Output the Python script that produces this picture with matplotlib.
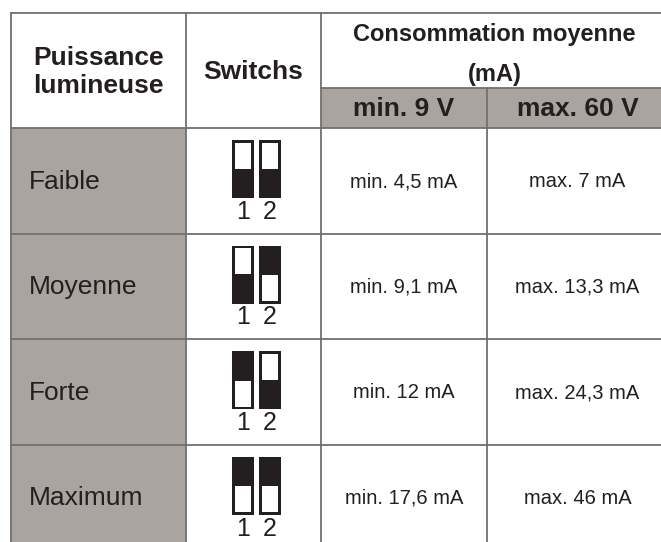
import matplotlib
matplotlib.use("Agg")
import matplotlib.pyplot as plt
from matplotlib.patches import Rectangle

# ---- data ----
levels = ["Faible", "Moyenne", "Forte", "Maximum"]
switch1 = ["bas", "bas", "haut", "haut"]   # position of black lever part
switch2 = ["bas", "haut", "bas", "haut"]
min_9v = ["min. 4,5 mA", "min. 9,1 mA", "min. 12 mA", "min. 17,6 mA"]
max_60v = ["max. 7 mA", "max. 13,3 mA", "max. 24,3 mA", "max. 46 mA"]
header_col1 = ["Puissance", "lumineuse"]
header_col2 = "Switchs"
header_col3 = ["Consommation moyenne", "(mA)"]
sub_headers = ["min. 9 V", "max. 60 V"]
switch_labels = ["1", "2"]

# ---- layout (pixels) ----
W, H = 661, 542
x_cols = [11, 186, 321, 487, 668]
y_top, y_sub, y_head = 13, 88, 128
row_h = 105.5
gray = "#a9a4a0"
line_c = "#707070"
txt_c = "#231f20"
FONT = "Liberation Sans"

fig = plt.figure(figsize=(W / 100, H / 100), dpi=100)
ax = fig.add_axes([0, 0, 1, 1])
ax.set_xlim(0, W)
ax.set_ylim(H, 0)
ax.axis("off")

n = len(levels)
y_rows = [y_head + i * row_h for i in range(n + 1)]

# gray fills
ax.add_patch(Rectangle((x_cols[2], y_sub), x_cols[4] - x_cols[2], y_head - y_sub,
                       facecolor=gray, edgecolor="none"))
ax.add_patch(Rectangle((x_cols[0], y_head), x_cols[1] - x_cols[0], y_rows[-1] - y_head,
                       facecolor=gray, edgecolor="none"))

lw = 1.3
ax.plot([x_cols[0], x_cols[4]], [y_top, y_top], color=line_c, lw=lw)
ax.plot([x_cols[2], x_cols[4]], [y_sub, y_sub], color=line_c, lw=lw)
for y in y_rows[:-1]:
    ax.plot([x_cols[0], x_cols[4]], [y, y], color=line_c, lw=lw)
ax.plot([x_cols[0]] * 2, [y_top, y_rows[-1]], color=line_c, lw=lw)
ax.plot([x_cols[1]] * 2, [y_top, y_rows[-1]], color=line_c, lw=lw)
ax.plot([x_cols[2]] * 2, [y_top, y_rows[-1]], color=line_c, lw=lw)
ax.plot([x_cols[3]] * 2, [y_sub, y_rows[-1]], color=line_c, lw=lw)

bold = dict(ha="center", va="center", fontweight="bold", family=FONT, color=txt_c)
# headers
cx1 = (x_cols[0] + x_cols[1]) / 2
ax.text(cx1, 58, header_col1[0], fontsize=19, **bold)
ax.text(cx1, 86, header_col1[1], fontsize=19, **bold)
ax.text((x_cols[1] + x_cols[2]) / 2, 72, header_col2, fontsize=19, **bold)
cx3 = (x_cols[2] + x_cols[4]) / 2
ax.text(cx3, 34, header_col3[0], fontsize=17, **bold)
ax.text(cx3, 74, header_col3[1], fontsize=17, **bold)
for j, s in enumerate(sub_headers):
    ax.text((x_cols[2 + j] + x_cols[3 + j]) / 2, (y_sub + y_head) / 2 + 1, s,
            fontsize=19, **bold)

# rows
sw_w, sw_h = 22, 58
sw_gap = 5
win_h = 26
for i in range(n):
    y0 = y_rows[i]
    yc = y0 + row_h / 2
    ax.text(29, yc + 1, levels[i], ha="left", va="center", fontsize=19,
            family=FONT, color=txt_c)
    ax.text((x_cols[2] + x_cols[3]) / 2, yc + 1, min_9v[i], ha="center", va="center",
            fontsize=14.5, family=FONT, color=txt_c)
    ax.text((x_cols[3] + x_cols[4]) / 2, yc + 1, max_60v[i], ha="center", va="center",
            fontsize=14.5, family=FONT, color=txt_c)
    xs0 = (x_cols[1] + x_cols[2]) / 2 - (2 * sw_w + sw_gap) / 2 + 3
    for k, state in enumerate([switch1[i], switch2[i]]):
        xs = xs0 + k * (sw_w + sw_gap)
        ys = y0 + 12
        ax.add_patch(Rectangle((xs, ys), sw_w, sw_h, facecolor=txt_c, edgecolor="none"))
        if state == "bas":
            wy = ys + 2.5
        else:
            wy = ys + sw_h - 2.5 - win_h
        ax.add_patch(Rectangle((xs + 3, wy), sw_w - 6, win_h, facecolor="white",
                               edgecolor="none"))
        ax.text(xs + sw_w / 2, ys + sw_h + 14, switch_labels[k], ha="center",
                va="center", fontsize=18, family=FONT, color=txt_c)

fig.savefig("out.png", dpi=100, facecolor="white")
